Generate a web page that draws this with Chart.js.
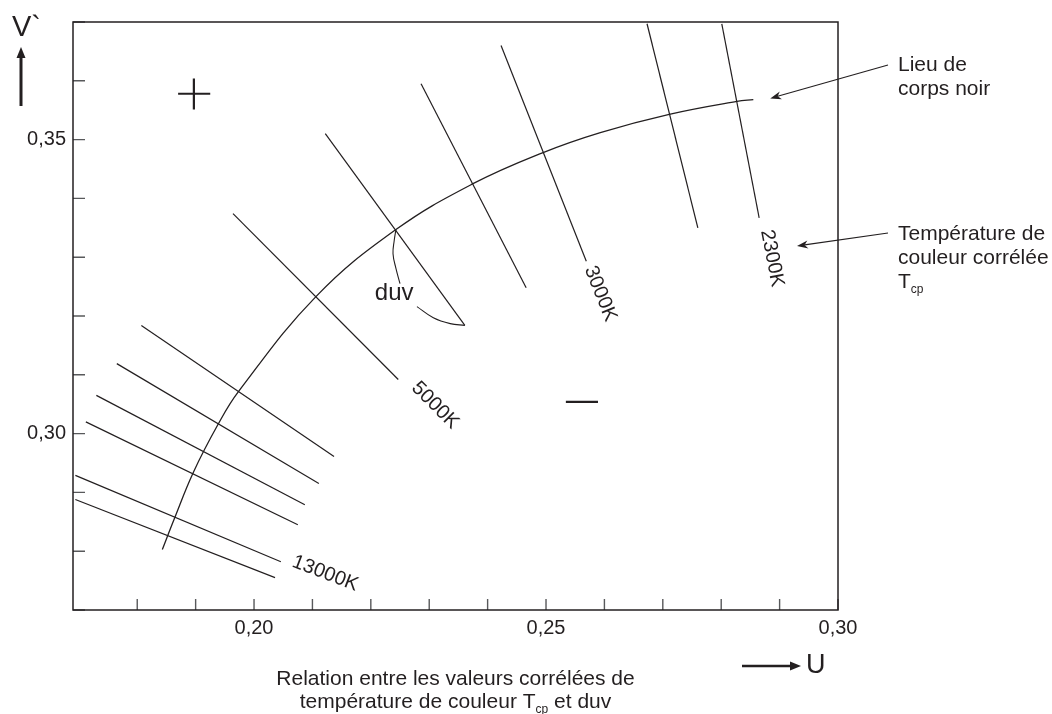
<!DOCTYPE html>
<html>
<head>
<meta charset="utf-8">
<script src="https://cdn.jsdelivr.net/npm/chart.js@4.4.0/dist/chart.umd.min.js"></script>
<style>
  body { margin: 0; background: #fff; }
  canvas { display: block; }
</style>
</head>
<body>
<canvas id="cct" width="1052" height="714"></canvas>
<script>
// black body locus in (u, v)
const locusU = [0.1843, 0.1863, 0.1896, 0.1938, 0.1973, 0.2106, 0.2243, 0.2375, 0.2495, 0.2593, 0.2711, 0.2827, 0.2855];
const locusV = [0.2803, 0.2854, 0.2934, 0.3015, 0.3071, 0.3233, 0.3347, 0.3425, 0.3478, 0.3512, 0.3543, 0.3565, 0.3568];

// iso-temperature lines (start / end)
const isoStartU = [0.2801, 0.2673, 0.2423, 0.2286, 0.2122, 0.1964, 0.1807, 0.1765, 0.1730, 0.1712, 0.1694, 0.1694];
const isoStartV = [0.3697, 0.3697, 0.3660, 0.3595, 0.3510, 0.3374, 0.3184, 0.3119, 0.3065, 0.3020, 0.2929, 0.2888];
const isoEndU = [0.2865, 0.2760, 0.2569, 0.2466, 0.2361, 0.2247, 0.2137, 0.2111, 0.2087, 0.2075, 0.2046, 0.2036];
const isoEndV = [0.3367, 0.3350, 0.3293, 0.3248, 0.3184, 0.3092, 0.2961, 0.2915, 0.2879, 0.2845, 0.2782, 0.2755];
const isoLabels = ['2300K', '3000K', '5000K', '13000K'];

// duv arc, two pieces around the text
const duvArc1U = [0.2243, 0.2240, 0.2238, 0.2243, 0.2250];
const duvArc1V = [0.3347, 0.3328, 0.3306, 0.3281, 0.3255];
const duvArc2U = [0.2279, 0.2307, 0.2336, 0.2361];
const duvArc2V = [0.3216, 0.3197, 0.3187, 0.3184];

// + and - marks
const plusHU = [0.1870, 0.1925];
const plusHV = [0.3578, 0.3578];
const plusVU = [0.1897, 0.1897];
const plusVV = [0.3604, 0.3551];
const minusU = [0.2534, 0.2589];
const minusV = [0.3054, 0.3054];

// tick labels
const xTickLabels = [0.20, 0.25, 0.30];
const yTickLabels = [0.30, 0.35];

const ink = '#231f20';
const family = '"Liberation Sans", Arial, sans-serif';
Chart.defaults.font.family = family;

function pts(us, vs) {
    return us.map((u, i) => ({x: u, y: vs[i]}));
}

function fmt(v) {
    return v.toFixed(2).replace('.', ',');
}

function hasLabel(list, v) {
    return list.some(l => Math.abs(l - v) < 1e-6);
}

let datasets = [];
datasets.push({data: pts(locusU, locusV), tension: 0.4, borderWidth: 1.3});
isoStartU.forEach((u, i) => {
    datasets.push({data: [{x: u, y: isoStartV[i]}, {x: isoEndU[i], y: isoEndV[i]}], borderWidth: 1.2});
});
datasets.push({data: pts(duvArc1U, duvArc1V), tension: 0.4, borderWidth: 1.1});
datasets.push({data: pts(duvArc2U, duvArc2V), tension: 0.4, borderWidth: 1.1});
datasets.push({data: pts(plusHU, plusHV), borderWidth: 2.2});
datasets.push({data: pts(plusVU, plusVV), borderWidth: 2.2});
datasets.push({data: pts(minusU, minusV), borderWidth: 2.4});
datasets.forEach(d => {
    d.showLine = true;
    d.pointRadius = 0;
    d.borderColor = ink;
    d.fill = false;
});

function arrow(ctx, x1, y1, x2, y2, w, len, half, notch) {
    const a = Math.atan2(y2 - y1, x2 - x1), c = Math.cos(a), s = Math.sin(a);
    ctx.lineWidth = w;
    ctx.beginPath();
    ctx.moveTo(x1, y1);
    ctx.lineTo(x2 - c * len * notch, y2 - s * len * notch);
    ctx.stroke();
    const bx = x2 - c * len, by = y2 - s * len;
    ctx.beginPath();
    ctx.moveTo(x2, y2);
    ctx.lineTo(bx - s * half, by + c * half);
    ctx.lineTo(x2 - c * len * notch, y2 - s * len * notch);
    ctx.lineTo(bx + s * half, by - c * half);
    ctx.closePath();
    ctx.fill();
}

function richText(ctx, parts, x, y, align, size) {
    const big = size + 'px ' + family;
    const small = Math.round(size * 0.58) + 'px ' + family;
    let w = 0;
    parts.forEach(p => { ctx.font = p[1] ? small : big; w += ctx.measureText(p[0]).width; });
    let cx = align === 'center' ? x - w / 2 : x;
    ctx.textAlign = 'left';
    ctx.textBaseline = 'alphabetic';
    parts.forEach(p => {
        ctx.font = p[1] ? small : big;
        ctx.fillText(p[0], cx, p[1] ? y + size * 0.22 : y);
        cx += ctx.measureText(p[0]).width;
    });
}

const decorations = {
    id: 'decorations',
    afterDatasetsDraw(chart) {
        const {ctx, chartArea: a, scales: {x, y}} = chart;
        ctx.save();
        // inner tick marks
        ctx.strokeStyle = '#58595b';
        ctx.lineWidth = 1.4;
        ctx.beginPath();
        x.ticks.forEach(t => {
            if (t.value < 0.175) return;
            const px = x.getPixelForValue(t.value);
            ctx.moveTo(px, a.bottom);
            ctx.lineTo(px, a.bottom - 11);
        });
        y.ticks.forEach(t => {
            const py = y.getPixelForValue(t.value);
            ctx.moveTo(a.left, py);
            ctx.lineTo(a.left + 12, py);
        });
        ctx.stroke();
        // frame
        ctx.strokeStyle = ink;
        ctx.lineWidth = 1.5;
        ctx.strokeRect(a.left, a.top, a.right - a.left, a.bottom - a.top);

        ctx.fillStyle = ink;
        // temperature labels along the isotherms
        const spots = [[0.2887, 0.3298, 79], [0.2593, 0.3238, 68], [0.2310, 0.3048, 45], [0.2122, 0.2762, 21]];
        ctx.font = '20px ' + family;
        ctx.textAlign = 'center';
        ctx.textBaseline = 'middle';
        isoLabels.forEach((txt, i) => {
            const [u, v, deg] = spots[i];
            ctx.save();
            ctx.translate(x.getPixelForValue(u), y.getPixelForValue(v));
            ctx.rotate(deg * Math.PI / 180);
            ctx.fillText(txt, 0, 0);
            ctx.restore();
        });
        ctx.font = '24px ' + family;
        ctx.fillText('duv', x.getPixelForValue(0.2240), y.getPixelForValue(0.3238));

        // callouts on the right
        ctx.strokeStyle = ink;
        arrow(ctx, a.right + 50, a.top + 43, x.getPixelForValue(0.2884), y.getPixelForValue(0.3570), 1.1, 11, 4, 0.7);
        arrow(ctx, a.right + 50, a.top + 211, a.right - 41, a.top + 224, 1.1, 11, 4, 0.7);
        const tx = a.right + 60;
        richText(ctx, [['Lieu de']], tx, a.top + 49, 'left', 21);
        richText(ctx, [['corps noir']], tx, a.top + 73, 'left', 21);
        richText(ctx, [['Température de']], tx, a.top + 218, 'left', 21);
        richText(ctx, [['couleur corrélée']], tx, a.top + 242, 'left', 21);
        richText(ctx, [['T'], ['cp', true]], tx, a.top + 266, 'left', 21);

        // axis names with arrows
        ctx.font = '29px ' + family;
        ctx.textAlign = 'left';
        ctx.textBaseline = 'alphabetic';
        ctx.fillText('V`', 12, 36);
        arrow(ctx, 21, 106, 21, 47, 3, 11, 4.5, 1);
        arrow(ctx, 742, 666, 801, 666, 2.6, 11, 4.5, 1);
        ctx.font = '27px ' + family;
        ctx.fillText('U', 806, 673);

        // caption
        const cx = (a.left + a.right) / 2;
        richText(ctx, [['Relation entre les valeurs corrélées de']], cx, a.bottom + 75, 'center', 21);
        richText(ctx, [['température de couleur T'], ['cp', true], [' et duv']], cx, a.bottom + 98, 'center', 21);
        ctx.restore();
    }
};

const chart = new Chart(document.getElementById('cct').getContext('2d'), {
    type: 'scatter',
    data: {datasets: datasets},
    options: {
        responsive: false,
        animation: false,
        layout: {padding: {left: 0, right: 214, top: 22, bottom: 64}},
        plugins: {legend: {display: false}, tooltip: {enabled: false}},
        scales: {
            x: {
                type: 'linear',
                min: 0.169,
                max: 0.30,
                grid: {display: false, drawTicks: false},
                border: {display: false},
                afterFit: s => { s.height = 40; },
                ticks: {
                    stepSize: 0.01,
                    maxTicksLimit: 30,
                    includeBounds: false,
                    autoSkip: false,
                    maxRotation: 0,
                    padding: 6,
                    color: ink,
                    font: {size: 20},
                    callback: v => hasLabel(xTickLabels, v) ? fmt(v) : ''
                }
            },
            y: {
                type: 'linear',
                min: 0.27,
                max: 0.37,
                grid: {display: false, drawTicks: false},
                border: {display: false},
                afterFit: s => { s.width = 73; },
                ticks: {
                    stepSize: 0.01,
                    maxTicksLimit: 30,
                    includeBounds: false,
                    autoSkip: false,
                    padding: 7,
                    color: ink,
                    font: {size: 20},
                    callback: v => hasLabel(yTickLabels, v) ? fmt(v) : ''
                }
            }
        }
    },
    plugins: [decorations]
});
</script>
</body>
</html>
